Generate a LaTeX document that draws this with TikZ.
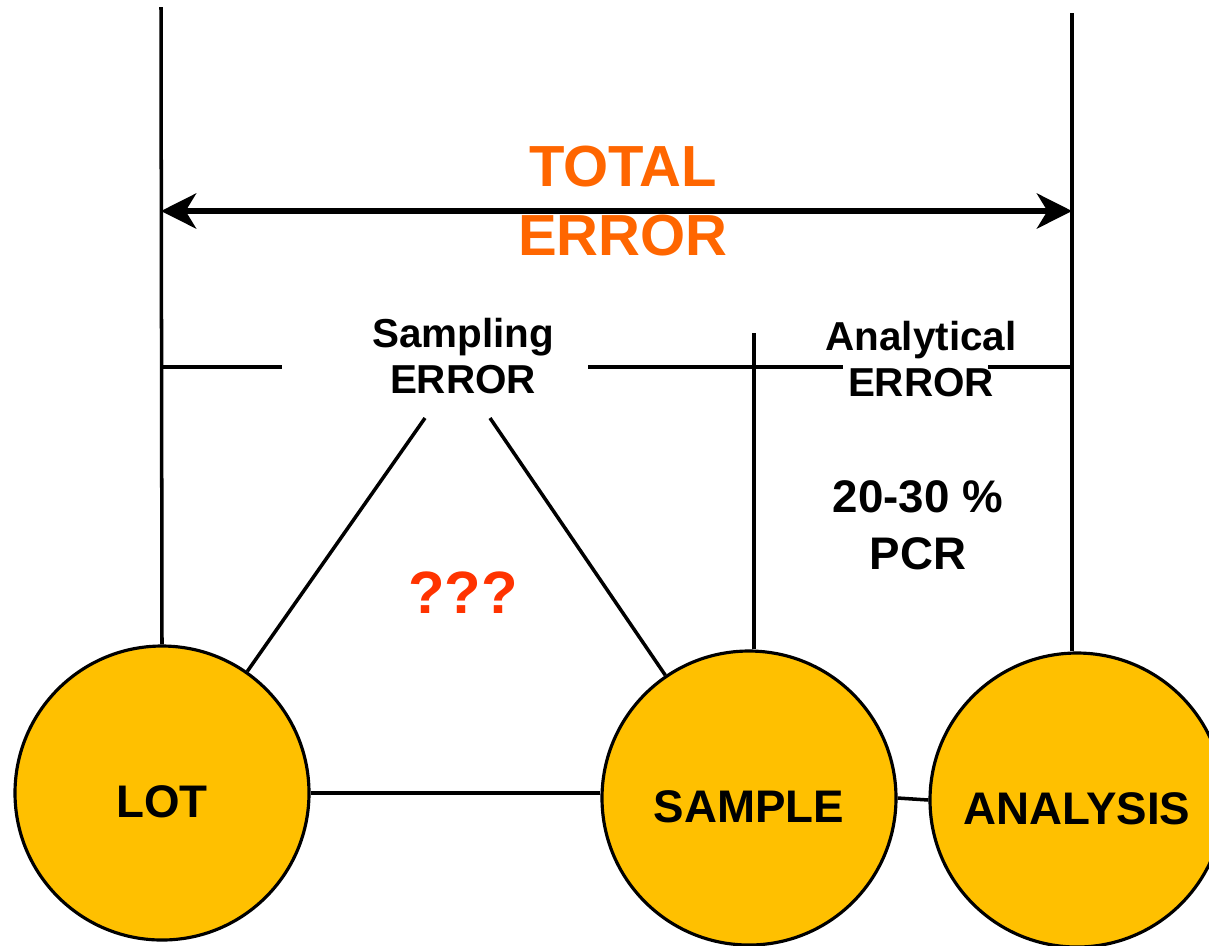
\documentclass[tikz,border=0pt]{standalone}
\usepackage{fontspec}
\setmainfont{Liberation Sans}
\usetikzlibrary{arrows.meta}

\definecolor{stagefill}{RGB}{255,192,0}
\definecolor{totalorange}{RGB}{255,102,0}
\definecolor{qred}{RGB}{255,51,0}

\begin{document}
\begin{tikzpicture}[x=0.1mm,y=-0.1mm,line width=1pt,
    stage/.style={circle,draw,line width=0.9pt,fill=stagefill,minimum size=29.4mm,
        inner sep=0pt,font=\fontsize{13}{15}\selectfont\bfseries,
        text height=14pt,text depth=0pt},
    errtext/.style={align=center,inner sep=0pt,
        font=\fontsize{11.5}{13.2}\selectfont\bfseries}]
    \useasboundingbox (0,0) rectangle (1209,945);
    % stages
    \node[stage] (lot) at (162,793) {LOT};
    \node[stage] (sample) at (749,798) {SAMPLE};
    \node[stage] (analysis) at (1077,800) {ANALYSIS};
    % texts
    \node[align=center,inner sep=0pt,text=totalorange,
        font=\fontsize{16.5}{19.6}\selectfont\bfseries] (total) at (623,201) {TOTAL\\ERROR};
    \node[errtext] (sampling) at (463,356) {Sampling\\ERROR};
    \node[errtext] (analytical) at (921,359) {Analytical\\ERROR};
    \node[align=center,inner sep=0pt,
        font=\fontsize{13}{16.2}\selectfont\bfseries] (pcr) at (918,525) {20-30 \%\\PCR};
    \node[inner sep=0pt,text=qred,font=\fontsize{17}{20}\selectfont\bfseries]
        (unknown) at (463,593) {???};
    % line ends
    \coordinate (topL) at (161,7);
    \coordinate (topR) at (1072,13);
    \coordinate (topS) at (754,333);
    \coordinate (arrL) at (161,211);
    \coordinate (arrR) at (1072,211);
    \coordinate (midL) at (161,367);
    \coordinate (midLa) at (282,367);
    \coordinate (midRa) at (588,367);
    \coordinate (midRb) at (843,367);
    \coordinate (midRc) at (988,367);
    \coordinate (midR) at (1072,367);
    \coordinate (triL) at (425,418);
    \coordinate (triR) at (490,418);
    % frame
    \draw (topL) -- (lot.north);
    \draw (topR) -- (topR |- analysis.north);
    \draw (topS) -- (topS |- sample.north);
    \draw[{Stealth[length=10pt,width=10pt,inset=3pt]}-{Stealth[length=10pt,width=10pt,inset=3pt]},
        line width=1.5pt] (arrL) -- (arrR);
    \draw (midL) -- (midLa);
    \draw (midRa) -- (midRb);
    \draw (midRc) -- (midR);
    % triangle
    \draw (triL) -- (lot);
    \draw (triR) -- (sample);
    \draw (lot.east) -- (lot.east -| sample.west);
    \draw (sample.east) -- (analysis.west);
\end{tikzpicture}
\end{document}
